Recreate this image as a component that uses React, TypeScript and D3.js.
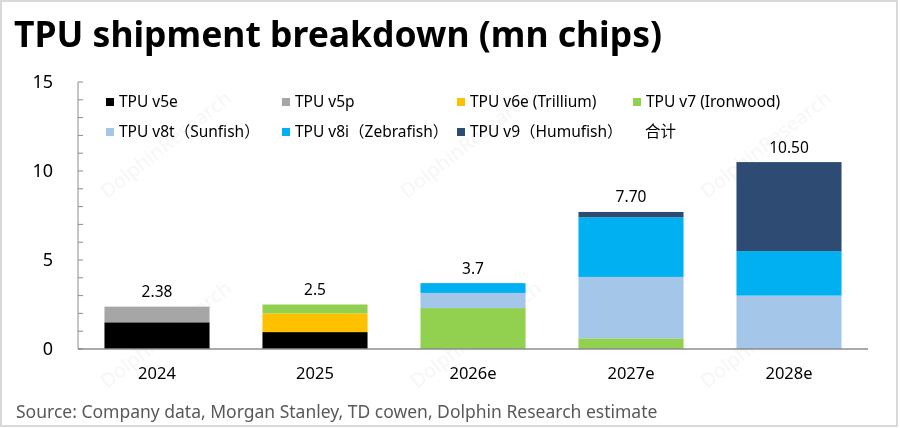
// App.tsx - TPU shipment breakdown, stacked bars
import React, { useEffect, useRef } from 'react';
import * as d3 from 'd3';

const years = ['2024', '2025', '2026e', '2027e', '2028e'];

// mn chips per generation, one value per year
const v5e = [1.5, 0.95, 0, 0, 0];
const v5p = [0.88, 0, 0, 0, 0];
const v6e = [0, 1.05, 0, 0, 0];
const v7 = [0, 0.5, 2.3, 0.6, 0];
const v8t = [0, 0, 0.85, 3.45, 3.0];
const v8i = [0, 0, 0.55, 3.35, 2.5];
const v9 = [0, 0, 0, 0.3, 5.0];

const totalLabels = ['2.38', '2.5', '3.7', '7.70', '10.50'];

const seriesNames = [
  'TPU v5e',
  'TPU v5p',
  'TPU v6e (Trillium)',
  'TPU v7 (Ironwood)',
  'TPU v8t（Sunfish）',
  'TPU v8i（Zebrafish）',
  'TPU v9（Humufish）',
];
const seriesColors = ['#000000', '#a6a6a6', '#ffc000', '#92d050', '#a4c6e9', '#00b0f0', '#2e4b73'];
const yTicks = [0, 5, 10, 15];

const FONT = '"Noto Sans", "Open Sans", "Noto Sans CJK SC", sans-serif';

export default function App() {
  const ref = useRef<SVGSVGElement>(null);

  useEffect(() => {
    const svg = d3.select(ref.current);
    svg.selectAll('*').remove();

    const width = 900;
    const height = 428;

    const allSeries = [v5e, v5p, v6e, v7, v8t, v8i, v9];
    const rows = years.map((y, i) => {
      const row: any = { year: y };
      seriesNames.forEach((n, k) => (row[n] = allSeries[k][i]));
      return row;
    });

    const x = d3.scaleBand().domain(years).range([78, 868]).paddingInner(0.335).paddingOuter(0.1675);
    const y = d3.scaleLinear().domain([0, 15]).range([349, 82]);

    svg.append('rect').attr('width', width).attr('height', height).attr('fill', '#fff');

    // watermark, very faint
    const wm = svg.append('g').attr('fill', '#000').attr('opacity', 0.04)
      .style('font-family', FONT).style('font-size', '20px');
    [[170, 150], [470, 150], [770, 150], [170, 340], [480, 340], [770, 340]].forEach(([wx, wy]) => {
      wm.append('text').attr('transform', `translate(${wx},${wy}) rotate(-38)`)
        .attr('text-anchor', 'middle').text('DolphinResearch');
    });

    svg.append('text')
      .attr('x', 14).attr('y', 47)
      .style('font-family', FONT).style('font-weight', 700).style('font-size', '35.5px')
      .attr('fill', '#000')
      .text('TPU shipment breakdown (mn chips)');

    const stack = d3.stack<any>().keys(seriesNames);
    const stacked = stack(rows);

    svg.append('g').selectAll('g').data(stacked).join('g')
      .attr('fill', (_d, i) => seriesColors[i])
      .selectAll('rect').data((d) => d).join('rect')
      .attr('x', (d) => x(d.data.year)!)
      .attr('width', x.bandwidth())
      .attr('y', (d) => y(d[1]))
      .attr('height', (d) => y(d[0]) - y(d[1]));

    // axes
    const axisColor = '#8c8c8c';
    svg.append('line').attr('x1', 78).attr('x2', 78).attr('y1', y(15)).attr('y2', y(0))
      .attr('stroke', axisColor).attr('stroke-width', 1);
    svg.append('line').attr('x1', 78).attr('x2', 868).attr('y1', y(0)).attr('y2', y(0))
      .attr('stroke', axisColor).attr('stroke-width', 1.5);
    svg.append('g').selectAll('line').data(d3.range(0, 16)).join('line')
      .attr('x1', 78).attr('x2', 83)
      .attr('y1', (d) => y(d)).attr('y2', (d) => y(d))
      .attr('stroke', axisColor);

    svg.append('g').selectAll('text').data(yTicks).join('text')
      .attr('x', 53).attr('y', (d) => y(d))
      .attr('dy', '0.35em').attr('text-anchor', 'end')
      .style('font-family', FONT).style('font-size', '18px').attr('fill', '#000')
      .text((d) => d);

    svg.append('g').selectAll('text').data(years).join('text')
      .attr('x', (d) => x(d)! + x.bandwidth() / 2).attr('y', 373)
      .attr('dy', '0.35em').attr('text-anchor', 'middle')
      .style('font-family', FONT).style('font-size', '16.5px').attr('fill', '#000')
      .text((d) => d);

    // totals
    const totals = years.map((_yr, i) => d3.sum(allSeries, (s) => s[i]));
    svg.append('g').selectAll('text').data(years).join('text')
      .attr('x', (d) => x(d)! + x.bandwidth() / 2)
      .attr('y', (_d, i) => y(totals[i]) - 15)
      .attr('dy', '0.35em').attr('text-anchor', 'middle')
      .style('font-family', FONT).style('font-size', '15.5px').attr('fill', '#000')
      .text((_d, i) => totalLabels[i]);

    // legend: 4 columns, last slot is the total (no swatch)
    const legendItems = [...seriesNames.map((n, i) => ({ name: n, color: seriesColors[i] })), { name: '合计', color: 'none' }];
    const colX = [106, 282, 457, 633];
    const rowY = [102, 132];
    const lg = svg.append('g').selectAll('g').data(legendItems).join('g')
      .attr('transform', (_d, i) => `translate(${colX[i % 4]},${rowY[Math.floor(i / 4)]})`);
    lg.append('rect').attr('x', 0).attr('y', -4).attr('width', 8).attr('height', 8)
      .attr('fill', (d) => d.color);
    lg.append('text').attr('x', (d) => (d.color === 'none' ? 12 : 13)).attr('dy', '0.35em')
      .style('font-family', FONT).style('font-size', '15.5px').attr('fill', '#000')
      .text((d) => d.name);

    svg.append('text')
      .attr('x', 16).attr('y', 412).attr('dy', '0.35em')
      .style('font-family', FONT).style('font-size', '17.5px').attr('fill', '#595959')
      .text('Source: Company data, Morgan Stanley, TD cowen, Dolphin Research estimate');

    // frame
    svg.append('rect').attr('x', 1).attr('y', 1).attr('width', 896).attr('height', 425)
      .attr('fill', 'none').attr('stroke', '#d9d9d9').attr('stroke-width', 2);
  }, []);

  return (
    <div style={{ position: 'absolute', left: 0, top: 0 }}>
      <svg ref={ref} width={900} height={428} style={{ display: 'block' }} />
    </div>
  );
}
